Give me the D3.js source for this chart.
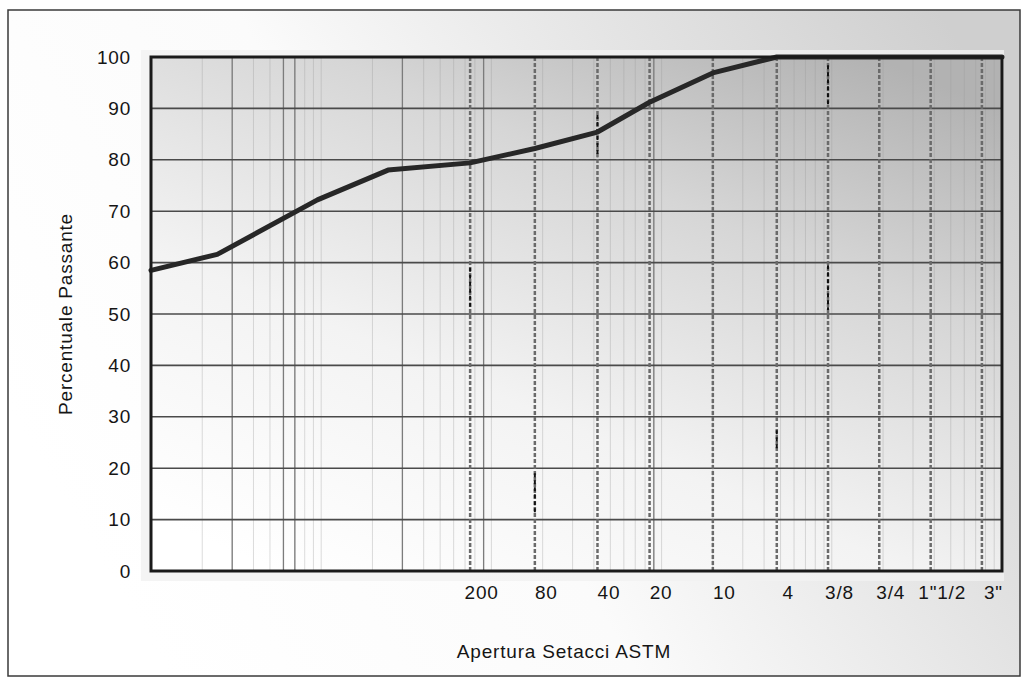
<!DOCTYPE html>
<html>
<head>
<meta charset="utf-8">
<script src="https://cdn.jsdelivr.net/npm/d3@7"></script>
<style>
  body { margin: 0; background: #fff; }
  svg text { font-family: "Liberation Sans", Arial, sans-serif; fill: #151515; }
</style>
</head>
<body>
<div id="chart"></div>
<script>
// grain size (mm) and percent passing
const sizes   = [0.001, 0.00245, 0.0095, 0.0247, 0.075, 0.18, 0.42, 0.85, 2.0, 4.75, 9.5, 19, 38.1, 76.2, 100];
const passing = [58.5,  61.6,    72.2,   78.0,   79.4,  82.2, 85.4, 91.2, 96.9, 100,  100, 100, 100,  100,  100];

// ASTM sieves (mm) and their labels
const sieveSizes  = [0.075, 0.18, 0.42, 0.85, 2.0, 4.75, 9.5, 19, 38.1, 76.2];
const sieveLabels = ['200', '80', '40', '20', '10', '4', '3/8', '3/4', '1"1/2', '3"'];

const yTicks = [0, 10, 20, 30, 40, 50, 60, 70, 80, 90, 100];

// darker vertical rulings of the printed log paper
const strongGrid = [0.003, 0.006, 0.007, 0.03, 0.09, 0.9];

// darker dash pieces on some sieve lines: [sieve size, from %, to %]
const darkDashes = [[0.075, 59, 51], [0.18, 19, 11], [0.42, 88.7, 80.5], [4.75, 27.4, 23.5], [9.5, 98.4, 90.7], [9.5, 59.5, 50.8]];

const W = 1024, H = 681;
const pLeft = 151, pRight = 1002, pTop = 57, pBottom = 571;
const fontSize = '19px', spacing = '0.8px';

const svg = d3.select('#chart').append('svg')
  .attr('width', W)
  .attr('height', H);

const defs = svg.append('defs');
const pg = defs.append('linearGradient').attr('id', 'panelGrad')
  .attr('x1', 0).attr('y1', 0.6).attr('x2', 1).attr('y2', 0.2);
pg.append('stop').attr('offset', '0%').attr('stop-color', '#ffffff');
pg.append('stop').attr('offset', '40%').attr('stop-color', '#fbfbfb');
pg.append('stop').attr('offset', '100%').attr('stop-color', '#cfcfcf');

const ag = defs.append('linearGradient').attr('id', 'plotGrad')
  .attr('x1', 0.15).attr('y1', 1).attr('x2', 0.85).attr('y2', 0);
ag.append('stop').attr('offset', '0%').attr('stop-color', '#ffffff');
ag.append('stop').attr('offset', '35%').attr('stop-color', '#f3f3f3');
ag.append('stop').attr('offset', '70%').attr('stop-color', '#d6d6d6');
ag.append('stop').attr('offset', '100%').attr('stop-color', '#b2b2b2');

// outer frame
svg.append('rect')
  .attr('x', 8).attr('y', 10).attr('width', 1012).attr('height', 666)
  .attr('fill', 'url(#panelGrad)')
  .attr('stroke', '#3a3a3a').attr('stroke-width', 1.5);

const x = d3.scaleLog().domain([0.001, 100]).range([pLeft, pRight]);
const y = d3.scaleLinear().domain([0, 100]).range([pBottom, pTop]);

// soft halo round the plot area
svg.append('rect')
  .attr('x', pLeft - 10).attr('y', pTop - 7)
  .attr('width', pRight - pLeft + 12).attr('height', pBottom - pTop + 17)
  .attr('fill', '#f1f1f1').attr('opacity', 0.8);

svg.append('rect')
  .attr('x', pLeft).attr('y', pTop)
  .attr('width', pRight - pLeft).attr('height', pBottom - pTop)
  .attr('fill', 'url(#plotGrad)');

// light log grid
svg.append('g')
  .selectAll('line')
  .data(x.ticks())
  .join('line')
  .attr('x1', d => x(d)).attr('x2', d => x(d))
  .attr('y1', pTop).attr('y2', pBottom)
  .attr('stroke', '#9a9a9a').attr('stroke-opacity', 0.35).attr('stroke-width', 1);

svg.append('g')
  .selectAll('line')
  .data(strongGrid)
  .join('line')
  .attr('x1', d => x(d)).attr('x2', d => x(d))
  .attr('y1', pTop).attr('y2', pBottom)
  .attr('stroke', '#7c7c7c').attr('stroke-width', 1.3);

// horizontal grid
svg.append('g')
  .selectAll('line')
  .data(yTicks)
  .join('line')
  .attr('x1', pLeft).attr('x2', pRight)
  .attr('y1', d => y(d)).attr('y2', d => y(d))
  .attr('stroke', '#4a4a4a').attr('stroke-width', 1.6);

// sieve lines
svg.append('g')
  .selectAll('line')
  .data(sieveSizes)
  .join('line')
  .attr('x1', d => x(d)).attr('x2', d => x(d))
  .attr('y1', pTop).attr('y2', pBottom)
  .attr('stroke', '#6a6a6a').attr('stroke-width', 2.5)
  .attr('stroke-dasharray', '4,2');

svg.append('g')
  .selectAll('line')
  .data(darkDashes)
  .join('line')
  .attr('x1', d => x(d[0])).attr('x2', d => x(d[0]))
  .attr('y1', d => y(d[1])).attr('y2', d => y(d[2]))
  .attr('stroke', '#111').attr('stroke-width', 2)
  .attr('stroke-dasharray', '4,3');

// grading curve
const line = d3.line()
  .x((d, i) => x(sizes[i]))
  .y(d => y(d));

svg.append('path')
  .datum(passing)
  .attr('fill', 'none')
  .attr('stroke', '#272727')
  .attr('stroke-width', 5)
  .attr('stroke-linejoin', 'round')
  .attr('stroke-linecap', 'round')
  .attr('d', line);

// plot border
svg.append('rect')
  .attr('x', pLeft).attr('y', pTop)
  .attr('width', pRight - pLeft).attr('height', pBottom - pTop)
  .attr('fill', 'none')
  .attr('stroke', '#1a1a1a').attr('stroke-width', 3);

// axes
const yAxis = d3.axisLeft(y).tickValues(yTicks).tickSize(0).tickPadding(20);
svg.append('g')
  .attr('transform', `translate(${pLeft},0)`)
  .call(yAxis)
  .call(g => g.select('.domain').remove())
  .call(g => g.selectAll('text').style('font-size', fontSize).style('letter-spacing', spacing).attr('fill', '#151515'));

const xAxis = d3.axisBottom(x)
  .tickValues(sieveSizes)
  .tickFormat((d, i) => sieveLabels[i])
  .tickSize(0).tickPadding(15);
svg.append('g')
  .attr('transform', `translate(0,${pBottom})`)
  .call(xAxis)
  .call(g => g.select('.domain').remove())
  .call(g => g.selectAll('text').style('font-size', fontSize).style('letter-spacing', spacing).attr('dx', 11).attr('fill', '#151515'));

svg.append('text')
  .attr('x', 564).attr('y', 658)
  .attr('text-anchor', 'middle')
  .style('font-size', fontSize).style('letter-spacing', spacing)
  .text('Apertura Setacci ASTM');

svg.append('text')
  .attr('transform', 'translate(72,314) rotate(-90)')
  .attr('text-anchor', 'middle')
  .style('font-size', fontSize).style('letter-spacing', spacing)
  .text('Percentuale Passante');
</script>
</body>
</html>
